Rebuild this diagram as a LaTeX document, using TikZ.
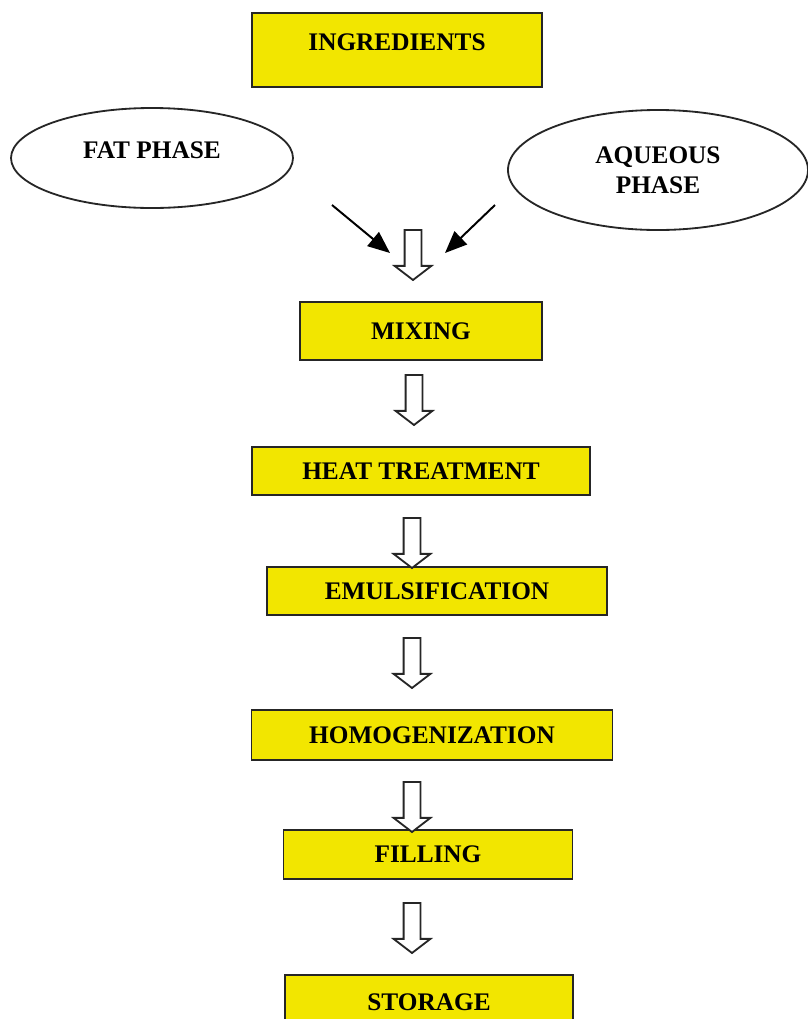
\documentclass[tikz,border=0pt]{standalone}
\usepackage{fontspec}
\setmainfont{Liberation Serif}
\usetikzlibrary{positioning, shapes.geometric, shapes.arrows, arrows.meta}
\definecolor{boxyellow}{RGB}{242,230,0}

\begin{document}
\begin{tikzpicture}[
stepbox/.style={rectangle, draw=black!85, fill=boxyellow, line width=1.4pt, inner sep=0pt, outer sep=0pt, font=\fontsize{18}{21}\selectfont\bfseries},
phase/.style={ellipse, draw=black!85, line width=1.3pt, inner sep=0pt, align=center, font=\fontsize{18}{21.3}\selectfont\bfseries},
hollow/.style={single arrow, draw=black!85, fill=white, line width=1.3pt, inner sep=0pt, outer sep=0pt, text height=0.1875cm, text depth=0.1875cm, minimum height=1.25cm, single arrow head extend=0.25cm, single arrow tip angle=105, rotate=-90},
feed/.style={-{Triangle[length=5.5mm,width=4.5mm]}, line width=1.4pt},
node distance=2cm
]
\path[use as bounding box, clip] (0,0) rectangle (20.2,-25.475);

%Nodes
\node[stepbox, minimum width=7.25cm, text height=0.925cm, text depth=0.925cm] (ingr) at (9.925,-1.25) {INGREDIENTS};

\node[phase, minimum width=7.05cm, minimum height=2.5cm, text height=0.45cm, text depth=0.45cm] (fat) at (3.8,-3.95) {FAT PHASE};
\node[phase, minimum width=7.5cm, minimum height=3cm] (aqueous) at (16.45,-4.25) {AQUEOUS\\PHASE};

\node[stepbox, minimum width=6.05cm,  minimum height=1.45cm]  (mix)   [below=5.375cm of ingr, xshift=0.6cm]    {MIXING};
\node[stepbox, minimum width=8.45cm,  minimum height=1.2cm]   (heat)  [below=2.175cm of mix]                  {HEAT TREATMENT};
\node[stepbox, minimum width=8.5cm,   minimum height=1.2cm]   (emul)  [below=1.8cm of heat, xshift=0.4cm]     {EMULSIFICATION};
\node[stepbox, minimum width=9.025cm, minimum height=1.25cm]  (homog) [below=2.375cm of emul, xshift=-0.125cm] {HOMOGENIZATION};
\node[stepbox, minimum width=7.225cm, minimum height=1.225cm] (fill)  [below=1.75cm of homog, xshift=-0.1cm]  {FILLING};
\node[stepbox, minimum width=7.2cm,   minimum height=1.375cm] (store) [below=2.4cm of fill, xshift=0.025cm]   {STORAGE};

%Hollow arrows
\node[hollow, anchor=tip]  (a0) at ([xshift=-0.2cm, yshift=0.55cm]mix.north) {};
\node[hollow, anchor=tail] (a1) at ([xshift=-0.175cm, yshift=-0.375cm]mix.south) {};
\node[hollow, anchor=tail] (a2) at ([xshift=-0.225cm, yshift=-0.575cm]heat.south) {};
\node[hollow, anchor=tail] (a3) at ([xshift=-0.625cm, yshift=-0.575cm]emul.south) {};
\node[hollow, anchor=tail] (a4) at ([xshift=-0.5cm, yshift=-0.55cm]homog.south) {};
\node[hollow, anchor=tail] (a5) at ([xshift=-0.4cm, yshift=-0.6cm]fill.south) {};

%Lines
\coordinate (fatout) at (8.3,-5.125);
\coordinate (fatin)  at (9.75,-6.325);
\coordinate (aqout)  at (12.375,-5.125);
\coordinate (aqin)   at (11.125,-6.325);
\draw[feed] (fatout) -- (fatin);
\draw[feed] (aqout) -- (aqin);
\end{tikzpicture}
\end{document}
